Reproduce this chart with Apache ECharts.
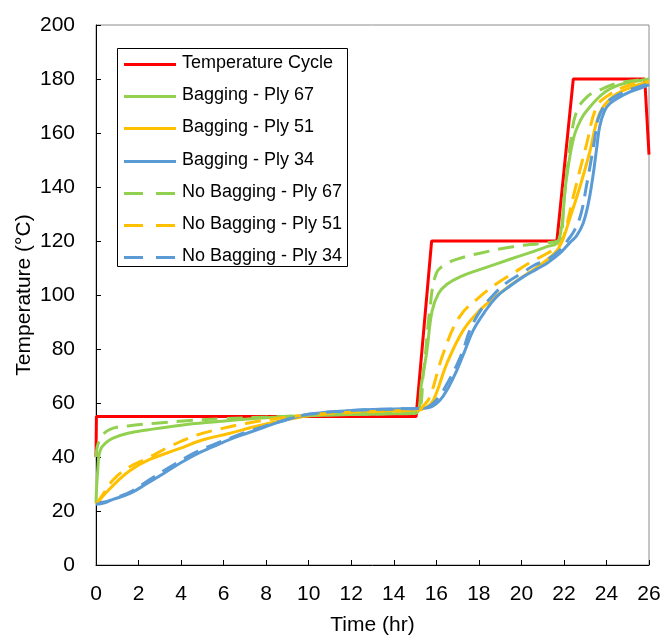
<!DOCTYPE html>
<html>
<head>
<meta charset="utf-8">
<script src="https://cdn.jsdelivr.net/npm/echarts@6/dist/echarts.min.js"></script>
<style>
  html, body { margin: 0; padding: 0; background: #fff; }
  #chart { width: 665px; height: 637px; }
</style>
</head>
<body>
<div id="chart"></div>
<script>
// Cure cycle and ply temperatures, [time (hr), temperature (°C)]
const temperatureCycle = [[0,40],[0.02,55],[15.05,55],[15.78,120],[21.67,120],[22.44,180],[25.8,180],[26,152]];

const baggingPly67 = [[0,23],[0.08,35],[0.2,42.5],[0.5,45.5],[0.8,47],[1.5,48.8],[2.4,50],[4,51.8],[5.5,53],[7,54],[8.6,54.8],[10,55.3],[12,55.7],[14,56],[15.05,56.3],[15.3,67],[15.55,79],[15.8,94],[16.1,100.5],[16.5,104],[17.2,107],[18,109.3],[19.6,113.6],[21.2,117.9],[21.75,120],[22.1,142],[22.45,158],[22.8,165],[23.1,168.5],[23.85,174.7],[24.6,177.8],[25.7,179.6],[26,180]];

const baggingPly51 = [[0,22.5],[0.5,27],[1,31],[1.6,35],[2.5,39],[3.95,43.2],[5,46.3],[6.3,48.8],[7.5,51.3],[8.65,53.3],[10,55.3],[12,56.5],[14,57],[15.1,57.2],[15.5,58.3],[15.86,61],[16.5,74.7],[17.27,87],[18.05,94.4],[18.8,99.5],[19.6,104.3],[20.4,108.5],[21.2,113],[21.8,118],[22.3,129],[22.75,140],[23.2,152.5],[23.68,167.3],[24.3,173.5],[25.26,177.2],[26,179]];

const baggingPly34 = [[0,23],[0.4,23.3],[0.8,24.3],[1.6,26.5],[2.4,30.2],[3.2,34],[3.95,37.7],[4.7,41],[5.5,43.8],[6.3,46.5],[7.1,48.8],[7.9,51],[8.65,53],[10,55.8],[12,57.2],[14,57.8],[15.2,58],[15.7,58.4],[16.17,61],[16.55,65.5],[16.96,72],[17.35,79.5],[17.74,87],[18.3,94],[18.84,99.4],[19.5,103.5],[20.1,106.8],[20.7,109.5],[21.19,111.7],[21.8,115.4],[22.29,119.5],[22.6,122],[22.9,126.5],[23.15,134],[23.36,143.8],[23.55,155],[23.68,162.3],[23.9,168],[24.17,171],[24.95,174.7],[25.8,177.2],[26,178]];

const noBaggingPly67 = [[0,40],[0.15,46],[0.6,50],[1.5,51.5],[2.8,52.5],[4.4,53.5],[6,54.2],[8,54.8],[10,55.4],[12,55.8],[14,56.1],[15.05,56.4],[15.4,72],[15.7,95],[16.0,108],[16.5,111.7],[17.2,113.8],[18,115.4],[19.6,117.9],[21.2,119.4],[21.8,120.5],[22.0,135],[22.3,156],[22.6,168],[23.1,173.5],[23.7,176],[24.6,178.6],[25.7,179.8],[26,180]];

const noBaggingPly51 = [[0,22.5],[0.4,27],[0.8,31.5],[1.5,36],[2.4,39.5],[3.5,44],[4.7,48],[5.9,50.5],[7.1,52.5],[8.5,54.3],[10,55.6],[12,56.6],[14,57.1],[15.1,57.3],[15.4,59],[15.7,62.3],[16.33,78.4],[17.1,92],[18.05,99.4],[18.8,104],[19.6,108],[20.4,112],[21.2,115.4],[21.8,118.5],[22.1,125],[22.44,136.4],[23.07,156],[23.54,169.7],[24.1,174],[25.1,177.8],[26,179]];

const noBaggingPly34 = [[0,22.5],[0.4,23],[0.8,24.5],[1.6,27],[2.4,31],[3.2,35],[3.95,38.5],[4.7,41.8],[5.5,44.5],[6.3,47],[7.1,49.3],[7.9,51.3],[8.65,53.2],[10,55.8],[12,57.2],[14,57.8],[15.2,58],[15.6,58.5],[16.1,62],[16.5,67],[16.96,74],[17.3,80.5],[17.58,87],[18.1,94.5],[18.68,100],[19.3,104.5],[20,108],[20.6,111],[21.19,113],[21.8,116.5],[22.2,120.5],[22.5,124],[22.8,130],[23.05,140],[23.28,150],[23.45,158],[23.6,165],[23.85,169.5],[24.1,172],[24.9,175.5],[25.8,177.8],[26,178.5]];

const seriesNames = ['Temperature Cycle','Bagging - Ply 67','Bagging - Ply 51','Bagging - Ply 34','No Bagging - Ply 67','No Bagging - Ply 51','No Bagging - Ply 34'];
const seriesData = [temperatureCycle, baggingPly67, baggingPly51, baggingPly34, noBaggingPly67, noBaggingPly51, noBaggingPly34];
const seriesColors = ['#ff0000','#92d050','#ffc000','#5b9bd5','#92d050','#ffc000','#5b9bd5'];
const seriesDashed = [false,false,false,false,true,true,true];

const font = 'Liberation Sans, Arial, sans-serif';
const plotDash = [16, 9];
const keyDash = [19, 13];

const chart = echarts.init(document.getElementById('chart'), null, { renderer: 'canvas' });

const series = seriesNames.map((name, i) => ({
  name: name,
  type: 'line',
  data: seriesData[i],
  showSymbol: false,
  symbol: 'none',
  smooth: i === 0 ? false : 0.4,
  clip: true,
  z: 2 + i,
  lineStyle: {
    color: seriesColors[i],
    width: 3,
    type: seriesDashed[i] ? plotDash : 'solid',
    cap: 'butt'
  },
  itemStyle: { color: seriesColors[i] }
}));

// Boxed key in the upper-left of the plot
const keyLeft = 117, keyTop = 48, keyWidth = 230, keyHeight = 218;
const rowTop = 64, rowStep = 32.2;
const keyElements = [{
  type: 'rect',
  shape: { x: keyLeft + 0.5, y: keyTop + 0.5, width: keyWidth, height: keyHeight },
  style: { fill: '#fff', stroke: '#000', lineWidth: 1 },
  z: 100
}];
seriesNames.forEach((name, i) => {
  const y = Math.round(rowTop + i * rowStep) + 0.5;
  keyElements.push({
    type: 'line',
    shape: { x1: 124, y1: y, x2: 176, y2: y },
    style: { stroke: seriesColors[i], lineWidth: 3, lineDash: seriesDashed[i] ? keyDash : null },
    z: 101
  });
  keyElements.push({
    type: 'text',
    x: 182, y: y - 1,
    style: { text: name, fill: '#000', font: '18px ' + font, verticalAlign: 'middle', align: 'left' },
    z: 101
  });
});

chart.setOption({
  animation: false,
  backgroundColor: '#fff',
  grid: {
    left: 96, right: 16, top: 25, bottom: 72,
    containLabel: false,
    outerBoundsMode: 'none',
    show: true,
    borderColor: '#8c8c8c',
    borderWidth: 1
  },
  xAxis: {
    type: 'value',
    min: 0, max: 26, interval: 2,
    name: 'Time (hr)',
    nameLocation: 'middle',
    nameGap: 50,
    nameMoveOverlap: false,
    nameTextStyle: { fontFamily: font, fontSize: 21, color: '#000' },
    axisLine: { show: true, lineStyle: { color: '#000', width: 1 } },
    axisTick: { show: true, inside: true, length: 5, lineStyle: { color: '#000' } },
    axisLabel: { fontFamily: font, fontSize: 21, color: '#000', margin: 19 },
    splitLine: { show: false }
  },
  yAxis: {
    type: 'value',
    min: 0, max: 200, interval: 20,
    name: 'Temperature (°C)',
    nameLocation: 'middle',
    nameGap: 61,
    nameMoveOverlap: false,
    nameRotate: 90,
    nameTextStyle: { fontFamily: font, fontSize: 21, color: '#000' },
    axisLine: { show: true, lineStyle: { color: '#000', width: 1 } },
    axisTick: { show: true, inside: true, length: 5, lineStyle: { color: '#000' } },
    axisLabel: { fontFamily: font, fontSize: 21, color: '#000', margin: 21 },
    splitLine: { show: false }
  },
  graphic: keyElements,
  series: series
});
</script>
</body>
</html>
